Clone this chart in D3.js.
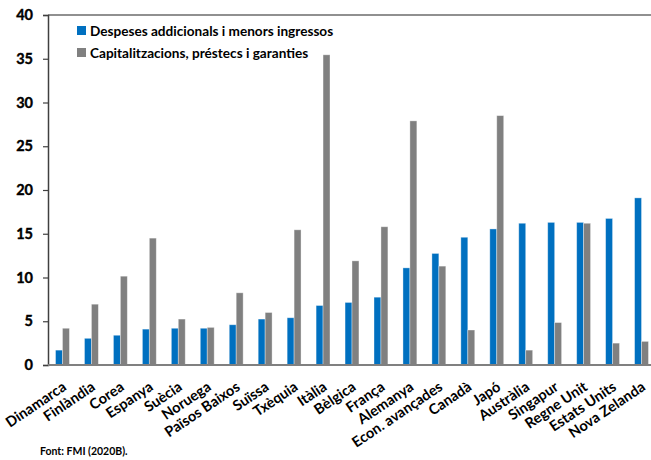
<!DOCTYPE html>
<html>
<head>
  <meta charset="utf-8">
  <title>Despeses i capitalitzacions</title>
  <style>
    body { margin: 0; background: #fff; }
    svg { display: block; font-family: Lato, "Open Sans", sans-serif; font-weight: bold; }
  </style>
  <script src="https://cdn.jsdelivr.net/npm/d3@7"></script>
</head>
<body>
<script>
  // dades
  var paisos = ['Dinamarca', 'Finlàndia', 'Corea', 'Espanya', 'Suècia', 'Noruega', 'Països Baixos',
    'Suïssa', 'Txèquia', 'Itàlia', 'Bèlgica', 'França', 'Alemanya', 'Econ. avançades', 'Canadà',
    'Japó', 'Austràlia', 'Singapur', 'Regne Unit', 'Estats Units', 'Nova Zelanda'];
  var despeses = [1.7, 3.05, 3.4, 4.1, 4.2, 4.2, 4.6, 5.25, 5.4, 6.8, 7.15, 7.75, 11.1, 12.75,
    14.6, 15.55, 16.2, 16.3, 16.3, 16.75, 19.1];
  var capitalitzacions = [4.2, 6.95, 10.15, 14.5, 5.25, 4.3, 8.25, 6.0, 15.45, 35.45, 11.9,
    15.8, 27.9, 11.3, 4.0, 28.5, 1.7, 4.85, 16.2, 2.5, 2.7];
  var series = ['Despeses addicionals i menors ingressos', 'Capitalitzacions, préstecs i garanties'];
  var colors = ['#0070c0', '#808080'];
  var yTicks = [0, 5, 10, 15, 20, 25, 30, 35, 40];

  var W = 651, H = 460;
  var mLeft = 48, mTop = 15, mBottom = 365, mRight = 656;

  var svg = d3.select('body').append('svg').attr('width', W).attr('height', H);

  var x0 = d3.scaleBand().domain(paisos).range([mLeft, mRight]).paddingInner(0.52).paddingOuter(0.26);
  var x1 = d3.scaleBand().domain([0, 1]).range([0, x0.bandwidth()]);
  var y = d3.scaleLinear().domain([0, 40]).range([mBottom, mTop]);

  // vora superior
  svg.append('line').attr('x1', mLeft).attr('x2', W).attr('y1', y(40)).attr('y2', y(40))
    .attr('stroke', '#6b6b6b').attr('stroke-width', 1.5);

  // eix Y
  var yAxis = svg.append('g')
    .attr('transform', 'translate(' + mLeft + ',0)')
    .call(d3.axisLeft(y).tickValues(yTicks).tickSize(5).tickPadding(10));
  yAxis.select('.domain').attr('stroke', '#404040').attr('stroke-width', 1.5);
  yAxis.selectAll('.tick line').attr('stroke', '#404040').attr('stroke-width', 1.2);
  yAxis.selectAll('.tick text').attr('font-size', 14.5).attr('font-family', 'Lato')
    .attr('font-weight', 'bold').attr('fill', '#000')
    .attr('stroke', '#000').attr('stroke-width', 0.4);

  // barres
  var grups = svg.selectAll('.grup').data(paisos).enter().append('g')
    .attr('transform', d => 'translate(' + x0(d) + ',0)');
  [despeses, capitalitzacions].forEach(function (vals, s) {
    grups.append('rect')
      .attr('x', x1(s))
      .attr('width', x1.bandwidth())
      .attr('y', (d, i) => y(vals[i]))
      .attr('height', (d, i) => y(0) - y(vals[i]))
      .attr('fill', colors[s])
      .attr('stroke', 'rgba(255,255,255,0.45)')
      .attr('stroke-width', 0.8);
  });

  // eix X
  var xAxis = svg.append('g')
    .attr('transform', 'translate(0,' + mBottom + ')')
    .call(d3.axisBottom(x0).tickSize(0).tickSizeOuter(0));
  xAxis.select('.domain').attr('stroke', '#808080').attr('stroke-width', 2).attr('d', 'M' + mLeft + ',0H' + W);
  xAxis.selectAll('.tick text')
    .attr('font-size', 14.5).attr('font-family', 'Lato').attr('font-weight', 'bold').attr('fill', '#000')
    .attr('text-anchor', 'end')
    .attr('dy', '0.35em')
    .attr('transform', 'translate(' + (x0.bandwidth() / 2 - 5) + ',20) rotate(-34)')
    .attr('y', 0).attr('x', 0);

  // llegenda
  var leg = svg.append('g');
  series.forEach(function (s, i) {
    leg.append('rect').attr('x', 77).attr('y', 26 + i * 22).attr('width', 9).attr('height', 9)
      .attr('fill', colors[i]);
    leg.append('text').attr('x', 90).attr('y', 35.5 + i * 22).attr('font-size', 13.6).text(s);
  });

  // font
  svg.append('text').attr('x', 40).attr('y', 455).attr('font-size', 10.5).text('Font: FMI (2020B).');
</script>
</body>
</html>
